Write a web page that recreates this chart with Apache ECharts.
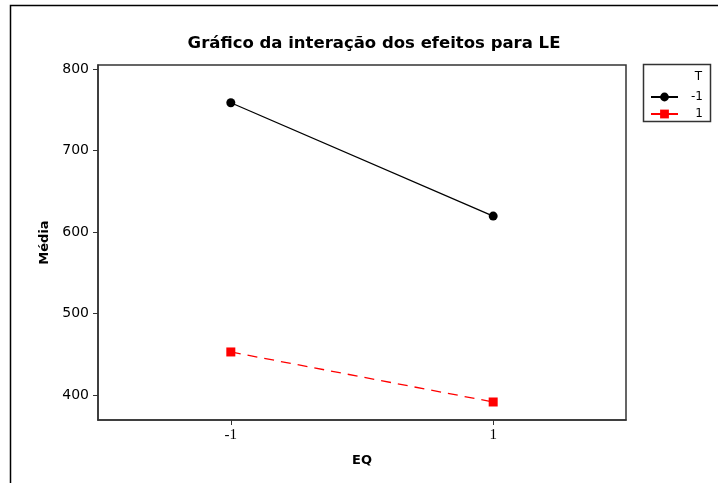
<!DOCTYPE html>
<html>
<head>
<meta charset="utf-8">
<script src="https://cdn.jsdelivr.net/npm/echarts@6/dist/echarts.min.js"></script>
<style>html,body{margin:0;padding:0;background:#fff}#c{width:718px;height:483px}</style>
</head>
<body>
<div id="c"></div>
<script>
var eqLevels = [-1, 1];
var tLevels = ['-1', '1'];
var meanTneg = [758.7, 619.6];
var meanTpos = [452.8, 391.4];
var yTicks = [400, 500, 600, 700, 800];

var chart = echarts.init(document.getElementById('c'), null, {renderer: 'canvas'});
function pts(vals){ return eqLevels.map(function(x,i){ return [x, vals[i]]; }); }
var axisColor = '#333';
chart.setOption({
  animation: false,
  backgroundColor: '#fff',
  title: {
    text: 'Gráfico da interação dos efeitos para LE',
    left: 369, top: 30, textAlign: 'center',
    textStyle: {fontFamily: 'DejaVu Sans', fontWeight: 'bold', fontSize: 16.5, color: '#000'}
  },
  grid: {left: 98, top: 65, right: 92, bottom: 63, containLabel: false, show: true,
         borderColor: axisColor, borderWidth: 1.5, backgroundColor: '#fff'},
  xAxis: {
    type: 'value', min: -2.0125, max: 2.0125,
    name: 'EQ', nameLocation: 'middle', nameGap: 34,
    nameTextStyle: {fontFamily: 'DejaVu Sans', fontWeight: 'bold', fontSize: 13, color: '#000'},
    splitLine: {show: false},
    axisLine: {onZero: false, lineStyle: {color: axisColor, width: 1.5}},
    axisTick: {customValues: eqLevels, length: 5, lineStyle: {color: axisColor}},
    axisLabel: {customValues: eqLevels, margin: 8, color: '#000', fontFamily: 'Liberation Serif', fontSize: 15}
  },
  yAxis: {
    type: 'value', min: 369.3, max: 805,
    name: 'Média', nameLocation: 'middle', nameGap: 47, nameRotate: 90,
    nameTextStyle: {fontFamily: 'DejaVu Sans', fontWeight: 'bold', fontSize: 13, color: '#000'},
    splitLine: {show: false},
    axisLine: {show: true, onZero: false, lineStyle: {color: axisColor, width: 1.5}},
    axisTick: {show: true, customValues: yTicks, length: 5, lineStyle: {color: axisColor}},
    axisLabel: {customValues: yTicks, margin: 9, color: '#000', fontFamily: 'DejaVu Sans', fontSize: 14}
  },
  legend: {
    left: 645, top: 86, orient: 'vertical', itemGap: 5, itemWidth: 27, itemHeight: 11,
    formatter: function(n){ return '{a|' + n + '}'; },
    textStyle: {fontFamily: 'DejaVu Sans', fontSize: 12, color: '#000',
      rich: {a: {width: 20, align: 'right', fontFamily: 'DejaVu Sans', fontSize: 12, color: '#000'}}},
    data: tLevels
  },
  graphic: [
    {type: 'rect', shape: {x: 10.5, y: 5.5, width: 800, height: 600}, style: {fill: null, stroke: '#000', lineWidth: 1.5}, silent: true},
    {type: 'rect', shape: {x: 643.5, y: 64.5, width: 67, height: 57}, style: {fill: null, stroke: '#333', lineWidth: 1.5}, silent: true},
    {type: 'text', x: 702, y: 77, style: {text: 'T', fill: '#000', font: '12px DejaVu Sans', align: 'right', verticalAlign: 'middle'}}
  ],
  series: [
    {name: tLevels[0], type: 'line', data: pts(meanTneg), symbol: 'circle', symbolSize: 9,
     lineStyle: {color: '#000', width: 1.3}, itemStyle: {color: '#000'}},
    {name: tLevels[1], type: 'line', data: pts(meanTpos), symbol: 'rect', symbolSize: 9,
     lineStyle: {color: '#f00', width: 1.3, type: [10, 7]}, itemStyle: {color: '#f00'}}
  ]
});
</script>
</body>
</html>
